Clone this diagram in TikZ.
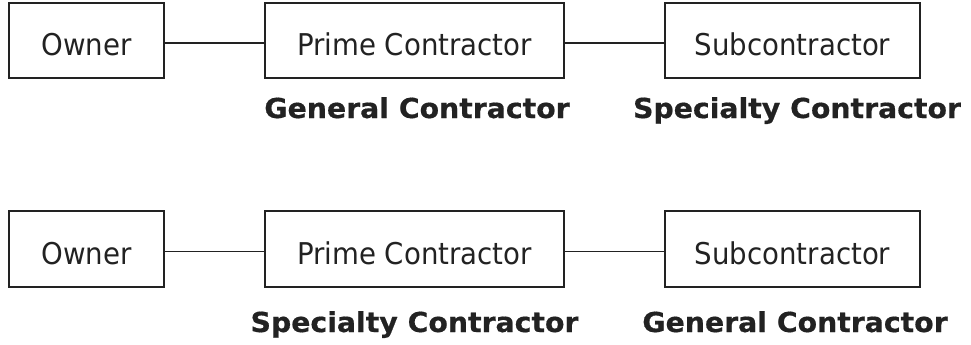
\documentclass[tikz,border=0pt]{standalone}
\usepackage{fontspec}
\setmainfont[FakeStretch=0.92]{DejaVu Sans}
\newfontfamily\labelfont[FakeStretch=1.03,FakeBold=0.6]{DejaVu Sans Bold}
\definecolor{ink}{HTML}{222222}
\begin{document}
\begin{tikzpicture}[x=1pt,y=-1pt,
  party/.style={draw=ink, line width=2.1pt, text=ink, font=\fontsize{30}{30}\selectfont,
    minimum height=75pt, inner sep=0pt, text height=30pt, text depth=0pt},
  role/.style={anchor=base, text=ink, inner sep=0pt, font=\labelfont\fontsize{27.5}{27.5}\selectfont},
  link/.style={draw=ink, line width=1.9pt}]
\useasboundingbox (0,0) rectangle (971,345);
% first arrangement
\node[party, minimum width=155pt] (o1) at (86.5,40.5) {Owner};
\node[party, minimum width=299pt] (p1) at (414.5,40.5) {Prime Contractor};
\node[party, minimum width=255pt] (s1) at (792.5,40.5) {Subcontractor};
\draw[link] ([yshift=-2.5pt]o1.east) -- ([yshift=-2.5pt]p1.west);
\draw[link] ([yshift=-2.5pt]p1.east) -- ([yshift=-2.5pt]s1.west);
\node[role] (g1) at (417,118) {General Contractor};
\node[role] (c1) at (797,118) {Specialty Contractor};
% second arrangement
\node[party, minimum width=155pt, minimum height=76pt] (o2) at (86.5,249) {Owner};
\node[party, minimum width=299pt, minimum height=76pt] (p2) at (414.5,249) {Prime Contractor};
\node[party, minimum width=255pt, minimum height=76pt] (s2) at (792.5,249) {Subcontractor};
\draw[link] ([yshift=-2.5pt]o2.east) -- ([yshift=-2.5pt]p2.west);
\draw[link] ([yshift=-2.5pt]p2.east) -- ([yshift=-2.5pt]s2.west);
\node[role] (c2) at (414.5,332) {Specialty Contractor};
\node[role] (g2) at (795,332) {General Contractor};
\end{tikzpicture}
\end{document}
